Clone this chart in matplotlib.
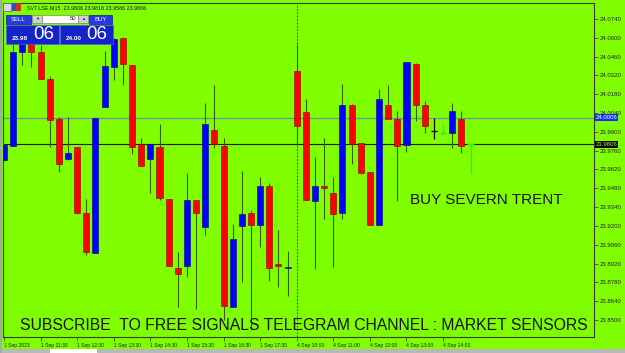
import matplotlib
matplotlib.use('Agg')
import matplotlib.pyplot as plt
from matplotlib.patches import Rectangle

# ---------------- data ----------------
symbol_header = "SVT.LSE,M15  23.9806 23.9816 23.9586 23.9806"
bid_price = 23.9806
ask_price = 24.0006

opens = [23.9691, 23.9795, 24.0494, 24.0561, 24.0494, 24.0293, 23.9996, 23.9698,
         23.9787, 23.9296, 23.8999, 24.0085, 24.0383, 24.0599, 24.0398, 23.9810,
         23.9698, 23.9787, 23.9400, 23.8887, 23.8902, 23.9393, 23.9192, 23.9914,
         23.9795, 23.8597, 23.9200, 23.9296, 23.9207, 23.9497, 23.8917, 23.8887,
         24.0353, 24.0048, 23.9385, 23.9497, 23.9445, 23.9296, 24.0100, 23.9817,
         23.9601, 23.9207, 24.0100, 23.9996, 23.9802, 24.0405, 24.0100, 23.9907,
         23.9892, 23.9892, 23.9996, 23.9806]
highs = [23.9810, 24.0570, 24.0600, 24.0590, 24.0547, 24.0316, 24.0011, 24.0011,
         23.9787, 23.9400, 24.0003, 24.0502, 24.0599, 24.0606, 24.0398, 23.9854,
         23.9810, 23.9959, 23.9400, 23.9006, 23.9594, 23.9393, 24.0115, 24.0249,
         23.9854, 23.9214, 23.9609, 23.9319, 23.9564, 23.9520, 23.9170, 23.9013,
         24.0554, 24.0145, 23.9713, 23.9854, 23.9564, 24.0256, 24.0107, 23.9817,
         23.9601, 24.0219, 24.0249, 24.0055, 24.0420, 24.0413, 24.0130, 24.0003,
         23.9959, 24.0115, 24.0055, 23.9816]
lows = [23.9680, 23.9795, 24.0398, 24.0383, 24.0293, 23.9787, 23.9601, 23.9691,
        23.9289, 23.8984, 23.8999, 24.0085, 24.0286, 24.0249, 23.9735, 23.9646,
        23.9445, 23.9393, 23.8902, 23.8597, 23.8820, 23.8582, 23.9133, 23.9780,
        23.8500, 23.8597, 23.8783, 23.8426, 23.9043, 23.8790, 23.8746, 23.8679,
        23.9817, 23.9393, 23.8880, 23.9252, 23.8895, 23.9252, 23.9661, 23.9586,
        23.9207, 23.9207, 23.9996, 23.9385, 23.9750, 23.9981, 23.9892, 23.9847,
        23.9884, 23.9780, 23.9743, 23.9586]
closes = [23.9802, 24.0494, 24.0561, 24.0494, 24.0293, 23.9988, 23.9661, 23.9743,
          23.9296, 23.9006, 24.0003, 24.0390, 24.0591, 24.0405, 23.9787, 23.9646,
          23.9810, 23.9408, 23.8902, 23.8842, 23.9393, 23.9296, 23.9959, 23.9810,
          23.8604, 23.9103, 23.9289, 23.9207, 23.9497, 23.8887, 23.8902, 23.8895,
          23.9944, 23.9393, 23.9497, 23.9482, 23.9289, 24.0100, 23.9810, 23.9594,
          23.9207, 24.0145, 23.9996, 23.9795, 24.0420, 24.0100, 23.9944, 23.9907,
          23.9892, 24.0055, 23.9795, 23.9806]

x_tick_idx = [0, 4, 8, 12, 16, 20, 24, 28, 32, 36, 40, 44, 48]
x_tick_labels = ["1 Sep 2023", "1 Sep 11:30", "1 Sep 12:30", "1 Sep 13:30",
                 "1 Sep 14:30", "1 Sep 15:30", "1 Sep 16:30", "1 Sep 17:30",
                 "4 Sep 10:00", "4 Sep 11:00", "4 Sep 12:00", "4 Sep 13:00",
                 "4 Sep 14:00"]
y_ticks = [round(24.0740 - 0.014 * k, 4) for k in range(17)]
separator_idx = 32

# ---------------- style ----------------
W, H = 625, 353
BG = '#7FFF00'
UP = '#0000FF'
DOWN = '#FF0000'
WICK = '#355f0c'
FONT = 'Liberation Sans'
plt.rcParams['font.family'] = [FONT, 'DejaVu Sans']

fig = plt.figure(figsize=(W / 100, H / 100), dpi=100, facecolor=BG)

def px(x, y):
    return x / W, 1 - y / H

ax_l, ax_r, ax_t, ax_b = 3, 594, 3, 337
ax = fig.add_axes([ax_l / W, 1 - ax_b / H, (ax_r - ax_l) / W, (ax_b - ax_t) / H])
ax.set_facecolor(BG)
ax.set_xlim(-0.11, 64.5)
ax.set_ylim(23.8373, 24.0859)

n = len(opens)
bw = 0.66
doji_style = {47: 'black', 48: '#22ee33', 51: '#22ee33'}
for i in range(n):
    o, h, l, c = opens[i], highs[i], lows[i], closes[i]
    if i in doji_style or o == c:
        col = doji_style.get(i, 'black')
        ax.vlines(i, l, h, color=col, lw=0.9, zorder=3)
        ax.hlines(o, i - bw / 2, i + bw / 2, color=col, lw=0.9, zorder=3)
        continue
    ax.vlines(i, l, h, color=WICK, lw=0.8, zorder=2)
    if c > o:
        ax.bar(i, c - o, bottom=o, width=bw, color=UP, edgecolor='#00008a', lw=0.4, zorder=3)
    else:
        ax.bar(i, o - c, bottom=c, width=bw, color=DOWN, edgecolor='#8a0000', lw=0.4, zorder=3)

# price lines
ax.axhline(ask_price, color='#6f8fb0', lw=0.9, zorder=1)
ax.axhline(bid_price, color='#1a1a1a', lw=0.8, zorder=1)
ax.axvline(separator_idx, color='#222222', lw=0.6, ls=(0, (2, 2)), zorder=1)

# axes styling
for s in ['left', 'top', 'right', 'bottom']:
    ax.spines[s].set_color('#3a3a3a')
    ax.spines[s].set_linewidth(0.8)
ax.yaxis.tick_right()
ax.set_yticks(y_ticks, [f"{v:.4f}" for v in y_ticks])
ax.tick_params(axis='y', direction='out', length=3, width=0.5, colors='#333333',
               labelsize=4.3, pad=1, labelcolor='#222222')
ax.set_xticks(x_tick_idx, x_tick_labels)
ax.tick_params(axis='x', direction='out', length=3, width=0.5, colors='#333333',
               labelsize=3.6, pad=1, labelcolor='#222222')
for lbl in ax.get_xticklabels():
    lbl.set_ha('left')

# price labels on the axis
ax.text(1.003, ask_price, f"{ask_price:.4f}", transform=ax.get_yaxis_transform(),
        fontsize=4.3, color='white', va='center', ha='left', clip_on=False, zorder=6,
        bbox=dict(boxstyle='square,pad=0.15', fc='#1030ff', ec='none'))
ax.text(1.003, bid_price, f"{bid_price:.4f}", transform=ax.get_yaxis_transform(),
        fontsize=4.3, color='#a0ff60', va='center', ha='left', clip_on=False, zorder=6,
        bbox=dict(boxstyle='square,pad=0.15', fc='black', ec='none'))

# texts
fig.text(*px(410, 200), "BUY SEVERN TRENT", fontsize=11, color='#111111',
         va='center', ha='left', family=FONT)
fig.text(*px(20, 325), "SUBSCRIBE  TO FREE SIGNALS TELEGRAM CHANNEL : MARKET SENSORS",
         fontsize=11.3, color='#111111', va='center', ha='left', family=FONT)

# header
def rect(x0, y0, x1, y1, fc, ec='none', lw=0.5, z=10):
    fig.patches.append(Rectangle(px(x0, y1), (x1 - x0) / W, (y1 - y0) / H,
                                 transform=fig.transFigure, fc=fc, ec=ec, lw=lw, zorder=z))

rect(3, 3, 11, 11, '#d8d8e8', '#606070')
rect(12, 3, 16, 11, '#3050c0')
rect(16, 3, 21, 11, '#d03030')
fig.text(*px(27, 7.5), symbol_header, fontsize=3.9, color='#111111', va='center', ha='left')

# trade panel
rect(6, 15, 31, 24, '#2a3ae0', '#101a90')
fig.text(*px(18.5, 19.5), "SELL", fontsize=4.3, color='white', va='center', ha='center', zorder=11)
rect(32, 15, 42, 23, '#d0d0d0', '#808080')
rect(42, 15, 78, 23, 'white', '#808080')
rect(78, 15, 88, 23, '#d0d0d0', '#808080')
fig.text(*px(37, 19), "\u25BC", fontsize=3, color='#222222', va='center', ha='center', zorder=11)
fig.text(*px(83, 19), "\u25B2", fontsize=3, color='#222222', va='center', ha='center', zorder=11)
fig.text(*px(76, 19), "50", fontsize=4.3, color='#222222', va='center', ha='right', zorder=11)
rect(89, 15, 112, 24, '#2a3ae0', '#101a90')
fig.text(*px(100.5, 19.5), "BUY", fontsize=4.3, color='white', va='center', ha='center', zorder=11)

rect(6, 25, 59, 44, '#1424c8', '#5060e0')
rect(60, 25, 113, 44, '#1424c8', '#5060e0')
fig.text(*px(12, 38.5), "23.98", fontsize=4.6, color='white', weight='bold',
         va='center', ha='left', zorder=11)
fig.text(*px(33, 34.5), "06", fontsize=13.5, color='white', va='center', ha='left', zorder=11)
fig.text(*px(66, 38.5), "24.00", fontsize=4.6, color='white', weight='bold',
         va='center', ha='left', zorder=11)
fig.text(*px(86, 34.5), "06", fontsize=13.5, color='white', va='center', ha='left', zorder=11)

# window bottom strip
rect(0, 349, 625, 353, '#b8b8b8', z=1)
rect(50, 349, 97, 353, 'white', z=2)
rect(0, 0, 2, 353, '#a8a8a8', z=1)

fig.savefig('out.png', dpi=100, facecolor=BG)
